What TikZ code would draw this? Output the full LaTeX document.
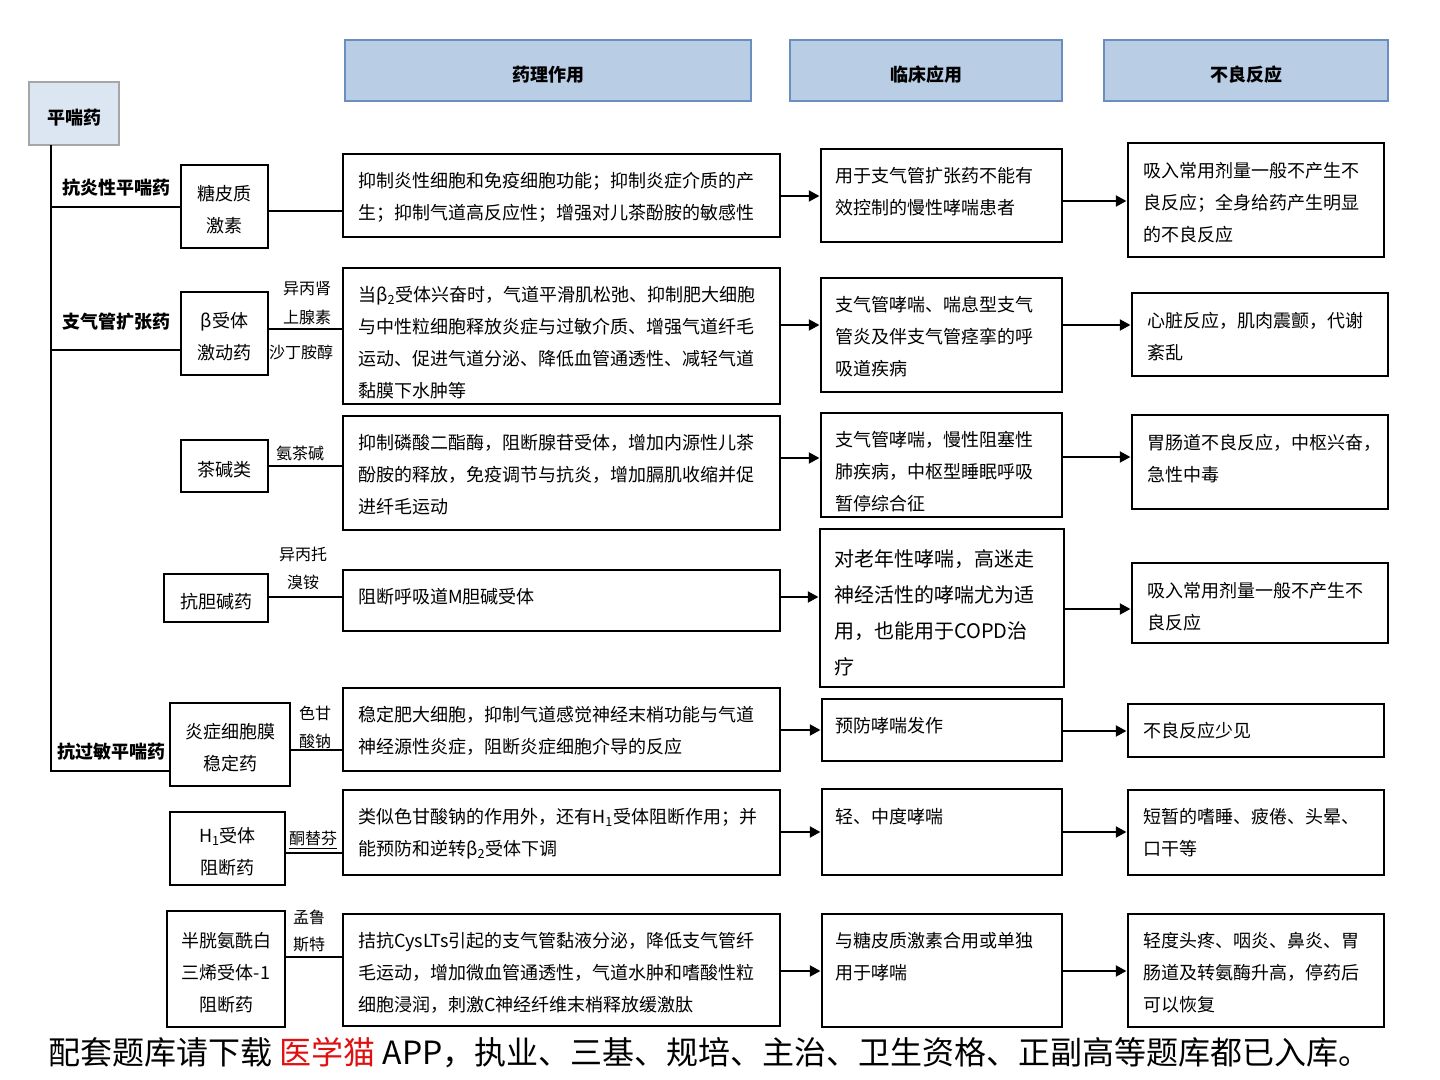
\documentclass[tikz,border=0pt]{standalone}
\usepackage{fontspec}
\newfontfamily\cjk{Noto Sans CJK SC}
\usetikzlibrary{fit,arrows.meta}
\definecolor{hdfill}{HTML}{B9CDE5}
\definecolor{hddraw}{HTML}{6C8EBF}
\definecolor{rtfill}{HTML}{DCE6F2}
\definecolor{rtdraw}{HTML}{A6A6A6}
\definecolor{redtxt}{HTML}{E01010}
\tikzset{
  bx/.style={draw=black, line width=2.2pt, inner sep=0pt, rectangle},
  dtx/.style={inner sep=0pt, yshift=-2.6pt, align=center, font={\cjk\fontsize{13.5pt}{24pt}\selectfont}},
  hd/.style={draw=hddraw, fill=hdfill, line width=1.3pt, inner sep=0pt},
  rt/.style={draw=rtdraw, fill=rtfill, line width=1.6pt, inner sep=0pt},
  bt/.style={inner sep=0pt, yshift=-3.4pt, font={\cjk\bfseries\fontsize{13.5pt}{16pt}\selectfont}},
  tx/.style={inner sep=0pt, anchor=north west, align=left, font={\cjk\fontsize{13.5pt}{24pt}\selectfont}},
  txb/.style={inner sep=0pt, anchor=north west, align=left, font={\cjk\fontsize{15pt}{27pt}\selectfont}},
  lab/.style={inner sep=0pt, font={\cjk\bfseries\fontsize{13.5pt}{16pt}\selectfont}},
  small/.style={inner sep=0pt, font={\cjk\fontsize{12pt}{14pt}\selectfont}},
  ln/.style={line width=2.2pt},
  arr/.style={line width=2.2pt, -{Triangle[length=8pt,width=8pt]}},
}
\begin{document}
\begin{tikzpicture}[x=0.75pt,y=-0.75pt]
\useasboundingbox (0,0) rectangle (1440,1080);
% headers
\node[hd, fit={(345,40) (751,101)}] (hA) {};
\node[hd, fit={(790,40) (1062,101)}] (hB) {};
\node[hd, fit={(1104,40) (1388,101)}] (hC) {};
\node[rt, fit={(29,82) (119,145)}] (root) {};
\node[bt] (hAt) at (hA.center) {药理作用};
\node[bt] (hBt) at (hB.center) {临床应用};
\node[bt] (hCt) at (hC.center) {不良反应};
\node[bt] (roott) at (root.center) {平喘药};
% drug boxes
\node[bx, fit={(181,165) (268,248)}] (gc) {};
\node[bx, fit={(181,292) (268,375)}] (beta) {};
\node[bx, fit={(181,440) (268,492)}] (theo) {};
\node[bx, fit={(164,574) (268,622)}] (ach) {};
\node[bx, fit={(170,703) (290,786)}] (mem) {};
\node[bx, fit={(170,812) (285,885)}] (hone) {};
\node[bx, fit={(167,911) (285,1027)}] (lt) {};
\node[dtx] (gct) at (gc.center) {糖皮质\\激素};
\node[dtx] (betat) at (beta.center) {β受体\\激动药};
\node[dtx] (theot) at (theo.center) {茶碱类};
\node[dtx] (acht) at (ach.center) {抗胆碱药};
\node[dtx] (memt) at (mem.center) {炎症细胞膜\\稳定药};
\node[dtx] (honet) at (hone.center) {H\textsubscript{1}受体\\阻断药};
\node[dtx] (ltt) at (lt.center) {半胱氨酰白\\三烯受体-1\\阻断药};
% branch labels
\node[lab] (l1) at (116,188) {抗炎性平喘药};
\node[lab] (l2) at (116,322) {支气管扩张药};
\node[lab] (l3) at (111,752) {抗过敏平喘药};
% trunk
\coordinate (t0) at (51,145);
\coordinate (t1) at (51,771);
\coordinate (b1) at (51,207);
\coordinate (b2) at (51,350);
\draw[ln] (t0) -- (t1) -- (mem.west |- t1);
\draw[ln] (b1) -- (gc.west |- b1);
\draw[ln] (b2) -- (beta.west |- b2);
% mechanism boxes
\node[bx, fit={(343,154) (780,237)}] (m1) {};
\node[bx, fit={(343,268) (780,404)}] (m2) {};
\node[bx, fit={(343,416) (780,530)}] (m3) {};
\node[bx, fit={(343,570) (780,631)}] (m4) {};
\node[bx, fit={(343,688) (780,771)}] (m5) {};
\node[bx, fit={(343,790) (780,875)}] (m6) {};
\node[bx, fit={(343,914) (780,1026)}] (m7) {};
\node[tx] (m1t) at (358,172) {抑制炎性细胞和免疫细胞功能；抑制炎症介质的产\\生；抑制气道高反应性；增强对儿茶酚胺的敏感性};
\node[tx] (m2t) at (358,286) {当β\textsubscript{2}受体兴奋时，气道平滑肌松弛、抑制肥大细胞\\与中性粒细胞释放炎症与过敏介质、增强气道纤毛\\运动、促进气道分泌、降低血管通透性、减轻气道\\黏膜下水肿等};
\node[tx] (m3t) at (358,434) {抑制磷酸二酯酶，阻断腺苷受体，增加内源性儿茶\\酚胺的释放，免疫调节与抗炎，增加膈肌收缩并促\\进纤毛运动};
\node[tx] (m4t) at (358,588) {阻断呼吸道M胆碱受体};
\node[tx] (m5t) at (358,706) {稳定肥大细胞，抑制气道感觉神经末梢功能与气道\\神经源性炎症，阻断炎症细胞介导的反应};
\node[tx] (m6t) at (358,808) {类似色甘酸钠的作用外，还有H\textsubscript{1}受体阻断作用；并\\能预防和逆转β\textsubscript{2}受体下调};
\node[tx] (m7t) at (358,932) {拮抗CysLTs引起的支气管黏液分泌，降低支气管纤\\毛运动，增加微血管通透性，气道水肿和嗜酸性粒\\细胞浸润，刺激C神经纤维末梢释放缓激肽};
% clinical boxes
\node[bx, fit={(821,149) (1062,242)}] (c1) {};
\node[bx, fit={(821,278) (1062,392)}] (c2) {};
\node[bx, fit={(821,413) (1062,517)}] (c3) {};
\node[bx, fit={(820,529) (1064,687)}] (c4) {};
\node[bx, fit={(822,699) (1062,761)}] (c5) {};
\node[bx, fit={(822,789) (1062,875)}] (c6) {};
\node[bx, fit={(822,914) (1062,1027)}] (c7) {};
\node[tx] (c1t) at (835,167) {用于支气管扩张药不能有\\效控制的慢性哮喘患者};
\node[tx] (c2t) at (835,296) {支气管哮喘、喘息型支气\\管炎及伴支气管痉挛的呼\\吸道疾病};
\node[tx] (c3t) at (835,431) {支气管哮喘，慢性阻塞性\\肺疾病，中枢型睡眠呼吸\\暂停综合征};
\node[txb] (c4t) at (834,549) {对老年性哮喘，高迷走\\神经活性的哮喘尤为适\\用，也能用于COPD治\\疗};
\node[tx] (c5t) at (835,717) {预防哮喘发作};
\node[tx] (c6t) at (835,808) {轻、中度哮喘};
\node[tx] (c7t) at (835,932) {与糖皮质激素合用或单独\\用于哮喘};
% adverse boxes
\node[bx, fit={(1128,143) (1384,257)}] (a1) {};
\node[bx, fit={(1132,293) (1388,376)}] (a2) {};
\node[bx, fit={(1132,415) (1388,509)}] (a3) {};
\node[bx, fit={(1132,563) (1388,643)}] (a4) {};
\node[bx, fit={(1128,704) (1384,757)}] (a5) {};
\node[bx, fit={(1128,790) (1384,875)}] (a6) {};
\node[bx, fit={(1128,914) (1384,1027)}] (a7) {};
\node[tx] (a1t) at (1143,162) {吸入常用剂量一般不产生不\\良反应；全身给药产生明显\\的不良反应};
\node[tx] (a2t) at (1147,312) {心脏反应，肌肉震颤，代谢\\紊乱};
\node[tx] (a3t) at (1147,434) {胃肠道不良反应，中枢兴奋，\\急性中毒};
\node[tx] (a4t) at (1147,582) {吸入常用剂量一般不产生不\\良反应};
\node[tx] (a5t) at (1143,722) {不良反应少见};
\node[tx] (a6t) at (1143,808) {短暂的嗜睡、疲倦、头晕、\\口干等};
\node[tx] (a7t) at (1143,932) {轻度头疼、咽炎、鼻炎、胃\\肠道及转氨酶升高，停药后\\可以恢复};
% drug -> mechanism lines
\draw[ln] (gc.east |- 0,211) -- (m1.west |- 0,211);
\draw[ln] (beta.east |- 0,329) -- (m2.west |- 0,329);
\draw[ln] (theo.east |- 0,466) -- (m3.west |- 0,466);
\draw[ln] (ach.east |- 0,597) -- (m4.west |- 0,597);
\draw[ln] (mem.east |- 0,750) -- (m5.west |- 0,750);
\draw[ln] (hone.east |- 0,853) -- (m6.west |- 0,853);
\draw[ln] (lt.east |- 0,957) -- (m7.west |- 0,957);
% drug labels
\node[small] (d1) at (307,289) {异丙肾};
\node[small] (d2) at (307,317) {上腺素};
\node[small] (d3) at (301,352) {沙丁胺醇};
\node[small] (d4) at (300,453) {氨茶碱};
\node[small] (d5) at (303,554) {异丙托};
\node[small] (d6) at (303,582) {溴铵};
\node[small] (d7) at (315,713) {色甘};
\node[small] (d8) at (315,741) {酸钠};
\node[small] (d9) at (313,838) {酮替芬};
\draw[line width=0.8pt] ([yshift=-2pt]d9.south west) -- ([yshift=-2pt]d9.south east);
\node[small] (d10) at (309,917) {孟鲁};
\node[small] (d11) at (309,945) {斯特};
% mechanism -> clinical arrows
\draw[arr] (m1.east |- 0,196) -- (c1.west |- 0,196);
\draw[arr] (m2.east |- 0,325) -- (c2.west |- 0,325);
\draw[arr] (m3.east |- 0,458) -- (c3.west |- 0,458);
\draw[arr] (m4.east |- 0,597) -- (c4.west |- 0,597);
\draw[arr] (m5.east |- 0,730) -- (c5.west |- 0,730);
\draw[arr] (m6.east |- 0,832) -- (c6.west |- 0,832);
\draw[arr] (m7.east |- 0,971) -- (c7.west |- 0,971);
% clinical -> adverse arrows
\draw[arr] (c1.east |- 0,201) -- (a1.west |- 0,201);
\draw[arr] (c2.east |- 0,325) -- (a2.west |- 0,325);
\draw[arr] (c3.east |- 0,457) -- (a3.west |- 0,457);
\draw[arr] (c4.east |- 0,609) -- (a4.west |- 0,609);
\draw[arr] (c5.east |- 0,731) -- (a5.west |- 0,731);
\draw[arr] (c6.east |- 0,832) -- (a6.west |- 0,832);
\draw[arr] (c7.east |- 0,971) -- (a7.west |- 0,971);
% footer
\node[inner sep=0pt, anchor=west, font={\cjk\fontsize{24pt}{28pt}\selectfont}] (foot) at (48,1053) {配套题库请下载 \textcolor{redtxt}{医学猫} APP，执业、三基、规培、主治、卫生资格、正副高等题库都已入库。};
\end{tikzpicture}
\end{document}
